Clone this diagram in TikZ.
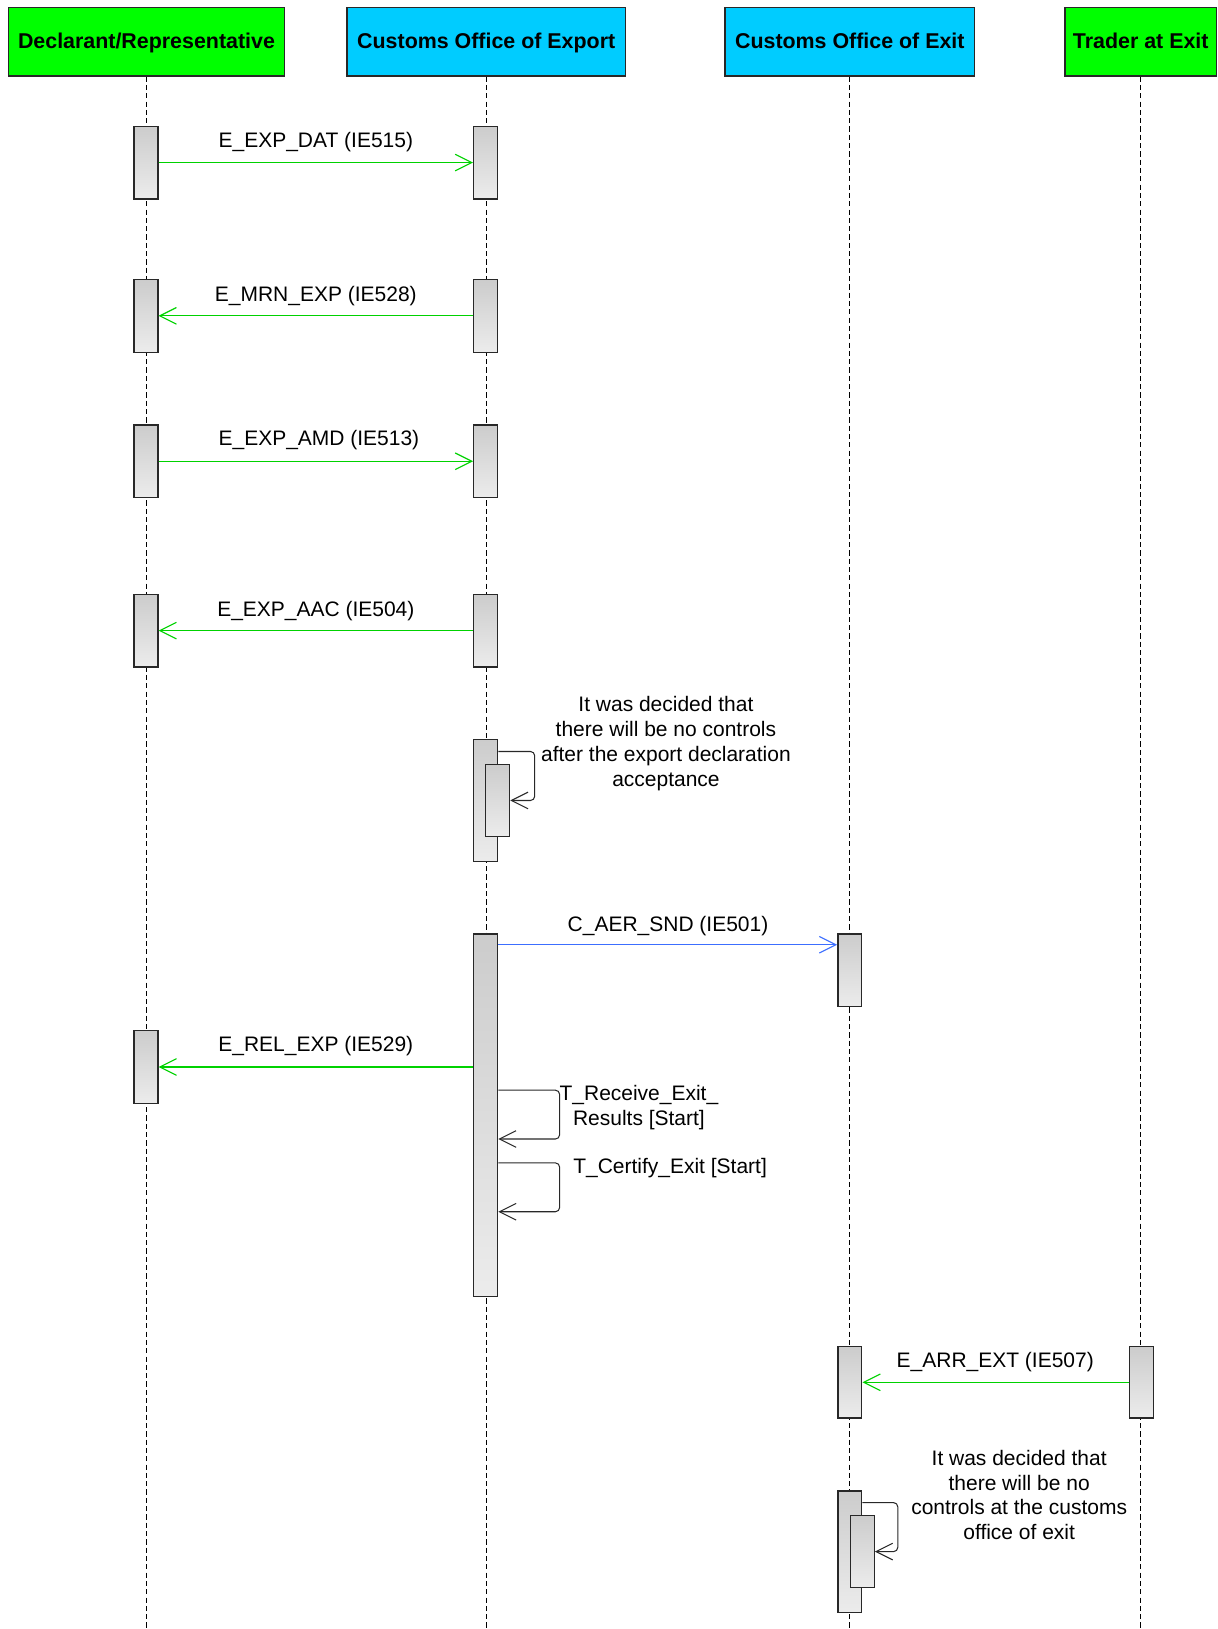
\documentclass[tikz,border=0pt]{standalone}
\usepackage{fontspec}
\setmainfont{Liberation Sans}
\usetikzlibrary{arrows.meta,calc}
\definecolor{hdrgreen}{RGB}{0,255,0}
\definecolor{hdrcyan}{RGB}{0,204,255}
\definecolor{msggreen}{RGB}{0,210,0}
\definecolor{msgblue}{RGB}{60,110,255}
\definecolor{actborder}{RGB}{40,40,40}
\begin{document}
\begin{tikzpicture}[x=0.5pt,y=-0.5pt,
  every node/.style={font=\fontsize{10.1}{12}\selectfont},
  header/.style={draw=actborder,line width=0.7pt,minimum height=33pt,inner sep=0pt,text height=7.3pt,text depth=0.4pt,font=\fontsize{10.3}{12}\selectfont\bfseries},
  life/.style={draw=black,line width=0.5pt,dash pattern=on 2.5pt off 1.5pt},
  act/.style={draw=actborder,line width=0.65pt,top color=gray!40,bottom color=gray!15,minimum width=11.5pt,inner sep=0pt},
  msg/.style={line width=0.55pt,-{Straight Barb[length=8pt,width=8pt,line width=0.55pt]}},
  selfmsg/.style={draw=actborder,line width=0.5pt,rounded corners=2pt,-{Straight Barb[length=8pt,width=8pt,line width=0.5pt]}},
  lbl/.style={inner sep=0pt},
  note/.style={inner sep=0pt,align=center}]
\useasboundingbox (0,0) rectangle (1172,1568);

% headers
\node[header,fill=hdrgreen,minimum width=133pt] (h1) at (141,40) {Declarant/Representative};
\node[header,fill=hdrcyan,minimum width=134pt] (h2) at (468,40) {Customs Office of Export};
\node[header,fill=hdrcyan,minimum width=120pt] (h3) at (818,40) {Customs Office of Exit};
\node[header,fill=hdrgreen,minimum width=73pt] (h4) at (1098,40) {Trader at Exit};

% lifelines
\coordinate (e1) at ($(h1.south)+(0,1495)$);
\coordinate (e2) at ($(h2.south)+(0,1495)$);
\coordinate (e3) at ($(h3.south)+(0,1495)$);
\coordinate (e4) at ($(h4.south)+(0,1495)$);
\draw[life] (h1.south) -- (e1);
\draw[life] (h2.south) -- (e2);
\draw[life] (h3.south) -- (e3);
\draw[life] (h4.south) -- (e4);

% activation boxes
\node[act,minimum height=35pt] (d1) at (140.5,156.5) {};
\node[act,minimum height=35pt] (x1) at (467.5,156.5) {};
\node[act,minimum height=35pt] (d2) at (140.5,304) {};
\node[act,minimum height=35pt] (x2) at (467.5,304) {};
\node[act,minimum height=35pt] (d3) at (140.5,444) {};
\node[act,minimum height=35pt] (x3) at (467.5,444) {};
\node[act,minimum height=35pt] (d4) at (140.5,607) {};
\node[act,minimum height=35pt] (x4) at (467.5,607) {};
\node[act,minimum height=58.5pt] (x5) at (467.5,770.5) {};
\node[act,minimum height=34.5pt] (x5i) at (479,770.5) {};
\node[act,minimum height=174.5pt] (xl) at (467.5,1073.5) {};
\node[act,minimum height=35pt] (c1) at (818,934) {};
\node[act,minimum height=35pt] (d5) at (140.5,1027) {};
\node[act,minimum height=34.5pt] (c2) at (818,1330.5) {};
\node[act,minimum height=34.5pt] (t1) at (1098.5,1330.5) {};
\node[act,minimum height=58.5pt] (c3) at (818,1493.5) {};
\node[act,minimum height=34.5pt] (c3i) at (830,1493.5) {};

% messages
\draw[msg,msggreen] (d1.east) -- (x1.west);
\node[lbl] (l1) at (304,137) {E\_EXP\_DAT (IE515)};
\draw[msg,msggreen] (x2.west) -- (d2.east);
\node[lbl] (l2) at (304,285) {E\_MRN\_EXP (IE528)};
\draw[msg,msggreen] (d3.east) -- (x3.west);
\node[lbl] (l3) at (307,424) {E\_EXP\_AMD (IE513)};
\draw[msg,msggreen] (x4.west) -- (d4.east);
\node[lbl] (l4) at (304,588) {E\_EXP\_AAC (IE504)};

\draw[selfmsg] ($(x5.north east)+(0,12)$) -- ++(35,0) |- (x5i.east);
\node[note] (n1) at (641,716) {It was decided that\\there will be no controls\\after the export declaration\\acceptance};

\coordinate (cs) at ($(xl.north east)+(0,11)$);
\draw[msg,msgblue] (cs) -- (cs -| c1.west);
\node[lbl] (l5) at (643,891) {C\_AER\_SND (IE501)};

\draw[msg,msggreen] (xl.west |- d5.east) -- (d5.east);
\node[lbl] (l6) at (304,1007) {E\_REL\_EXP (IE529)};

\coordinate (s2a) at ($(xl.north east)+(0,151)$);
\coordinate (s2b) at ($(xl.north east)+(0,198)$);
\draw[selfmsg] (s2a) -- ++(59,0) |- (s2b);
\node[note] (l7) at (615,1066) {T\_Receive\_Exit\_\\Results [Start]};

\coordinate (s3a) at ($(xl.north east)+(0,221)$);
\coordinate (s3b) at ($(xl.north east)+(0,268)$);
\draw[selfmsg] (s3a) -- ++(59,0) |- (s3b);
\node[lbl] (l8) at (645,1124) {T\_Certify\_Exit [Start]};

\draw[msg,msggreen] (t1.west) -- (c2.east);
\node[lbl] (l9) at (958,1311) {E\_ARR\_EXT (IE507)};

\draw[selfmsg] ($(c3.north east)+(0,12)$) -- ++(34,0) |- (c3i.east);
\node[note] (n2) at (981,1439) {It was decided that\\there will be no\\controls at the customs\\office of exit};
\end{tikzpicture}
\end{document}
